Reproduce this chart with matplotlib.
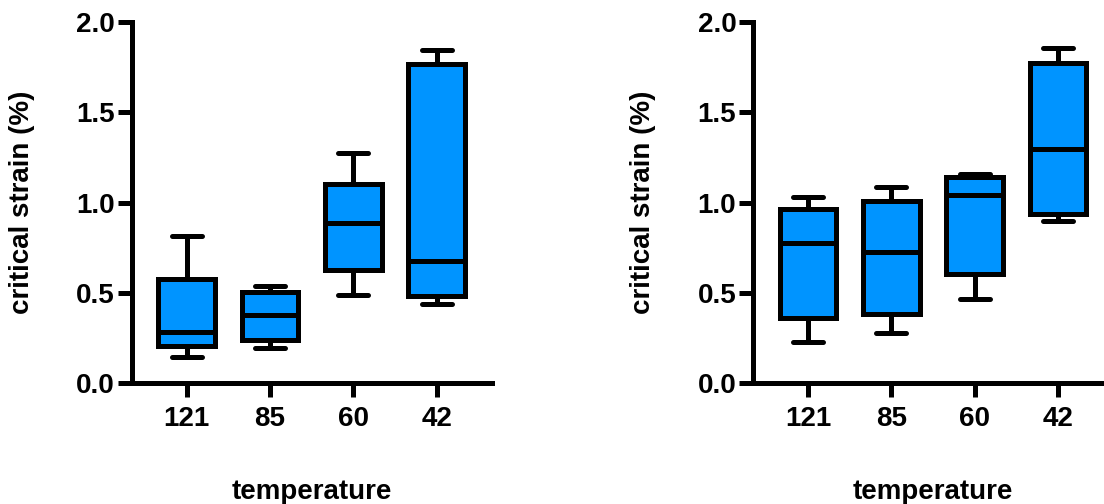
import numpy as np
import matplotlib
matplotlib.use("Agg")
import matplotlib.pyplot as plt

# temperature groups (x axis)
temperaturas = ["121", "85", "60", "42"]

# painel esquerdo: min, q1, mediana, q3, max
esq_min = [0.146, 0.198, 0.488, 0.438]
esq_q1 = [0.209, 0.240, 0.626, 0.484]
esq_med = [0.284, 0.377, 0.888, 0.678]
esq_q3 = [0.578, 0.504, 1.101, 1.766]
esq_max = [0.814, 0.537, 1.276, 1.845]

# painel direito
dir_min = [0.229, 0.280, 0.467, 0.899]
dir_q1 = [0.363, 0.382, 0.605, 0.940]
dir_med = [0.776, 0.729, 1.043, 1.295]
dir_q3 = [0.964, 1.010, 1.141, 1.772]
dir_max = [1.030, 1.089, 1.159, 1.858]

y_ticks = [0.0, 0.5, 1.0, 1.5, 2.0]

AZUL = "#0094FF"
LW = 3.6

plt.rcParams['font.family'] = ['Liberation Sans', 'DejaVu Sans']
plt.rcParams['font.weight'] = 'bold'


def montaStats(mn, q1, med, q3, mx):
    stats = []
    for i in range(len(mn)):
        stats.append({"whislo": mn[i], "q1": q1[i], "med": med[i],
                      "q3": q3[i], "whishi": mx[i], "fliers": []})
    return stats


def criaPainel(ax, stats):
    ax.bxp(stats, positions=np.arange(1, len(stats) + 1), widths=0.68,
           capwidths=0.36, patch_artist=True, showfliers=False,
           boxprops=dict(facecolor=AZUL, edgecolor="black", linewidth=LW),
           medianprops=dict(color="black", linewidth=LW, solid_capstyle="butt"),
           whiskerprops=dict(color="black", linewidth=LW),
           capprops=dict(color="black", linewidth=LW, solid_capstyle="round"))
    ax.set_xlim(0.34, 4.66)
    ax.set_ylim(0, 2.0)
    ax.set_xticks(np.arange(1, 5))
    ax.set_xticklabels(temperaturas)
    ax.set_yticks(y_ticks)
    ax.set_yticklabels(["%.1f" % v for v in y_ticks])
    for s in ["top", "right"]:
        ax.spines[s].set_visible(False)
    for s in ["left", "bottom"]:
        ax.spines[s].set_linewidth(LW)
    ax.tick_params(axis="both", width=LW, length=10, labelsize=20)
    ax.tick_params(axis="x", pad=6)
    ax.tick_params(axis="y", pad=2)
    ax.set_ylabel("critical strain (%)", fontsize=20, fontweight="bold", labelpad=30)
    ax.set_xlabel("temperature", fontsize=20, fontweight="bold", labelpad=34)


fig = plt.figure(figsize=(11.04, 5.04), dpi=100)
ax1 = fig.add_axes([0.1193, 0.2391, 0.3261, 0.7173])
ax2 = fig.add_axes([0.6821, 0.2391, 0.3261, 0.7173])
criaPainel(ax1, montaStats(esq_min, esq_q1, esq_med, esq_q3, esq_max))
criaPainel(ax2, montaStats(dir_min, dir_q1, dir_med, dir_q3, dir_max))
fig.savefig("out.png", dpi=100)
